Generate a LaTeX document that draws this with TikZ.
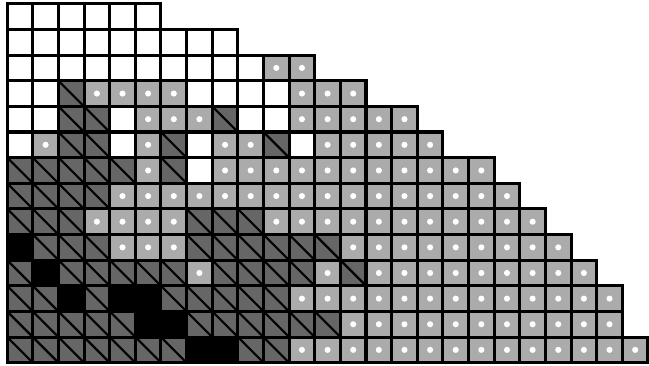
\documentclass[tikz,border=0pt]{standalone}
\usepackage{tikz}
\definecolor{lightcell}{gray}{0.67}
\definecolor{darkcell}{gray}{0.4}
\tikzstyle{cell} = [draw=black, line width=1.7pt]
\tikzstyle{cell w} = [cell, fill=white]
\tikzstyle{cell d} = [cell, fill=lightcell,
  path picture={\fill[white] (path picture bounding box.center) circle (1.7pt);}]
\tikzstyle{cell g} = [cell, fill=darkcell,
  path picture={\draw[line width=1.2pt] (path picture bounding box.north west) -- (path picture bounding box.south east);}]
\tikzstyle{cell b} = [cell, fill=black]
\begin{document}
\begin{tikzpicture}[x=0.5cm, y=0.5cm]
    \useasboundingbox (-0.28,-14.12) rectangle (25.04,0.15);
    % w = white, d = dotted, g = hatched, b = black (rows top to bottom)
    \foreach \cells [count=\r] in {
      {w,w,w,w,w,w},
      {w,w,w,w,w,w,w,w,w},
      {w,w,w,w,w,w,w,w,w,w,d,d},
      {w,w,g,d,d,d,d,w,w,w,w,d,d,d},
      {w,w,g,g,w,d,d,d,g,w,w,d,d,d,d,d},
      {w,d,g,g,w,d,g,w,d,d,g,w,d,d,d,d,d},
      {g,g,g,g,g,d,g,w,d,d,d,d,d,d,d,d,d,d,d},
      {g,g,g,g,d,d,d,d,d,d,d,d,d,d,d,d,d,d,d,d},
      {g,g,g,d,d,d,d,g,g,g,d,d,d,d,d,d,d,d,d,d,d},
      {b,g,g,g,d,d,d,g,g,g,g,g,g,d,d,d,d,d,d,d,d,d},
      {g,b,g,g,g,g,g,d,g,g,g,g,d,g,d,d,d,d,d,d,d,d,d},
      {g,g,b,g,b,b,g,g,g,g,g,d,d,d,d,d,d,d,d,d,d,d,d,d},
      {g,g,g,g,g,b,b,g,g,g,g,g,g,d,d,d,d,d,d,d,d,d,d,d},
      {g,g,g,g,g,g,g,b,b,g,g,d,d,d,d,d,d,d,d,d,d,d,d,d,d}}{
      \foreach \k [count=\c] in \cells
        \draw[cell \k] (\c-1,-\r) rectangle ++(1,1);
    }
\end{tikzpicture}
\end{document}
